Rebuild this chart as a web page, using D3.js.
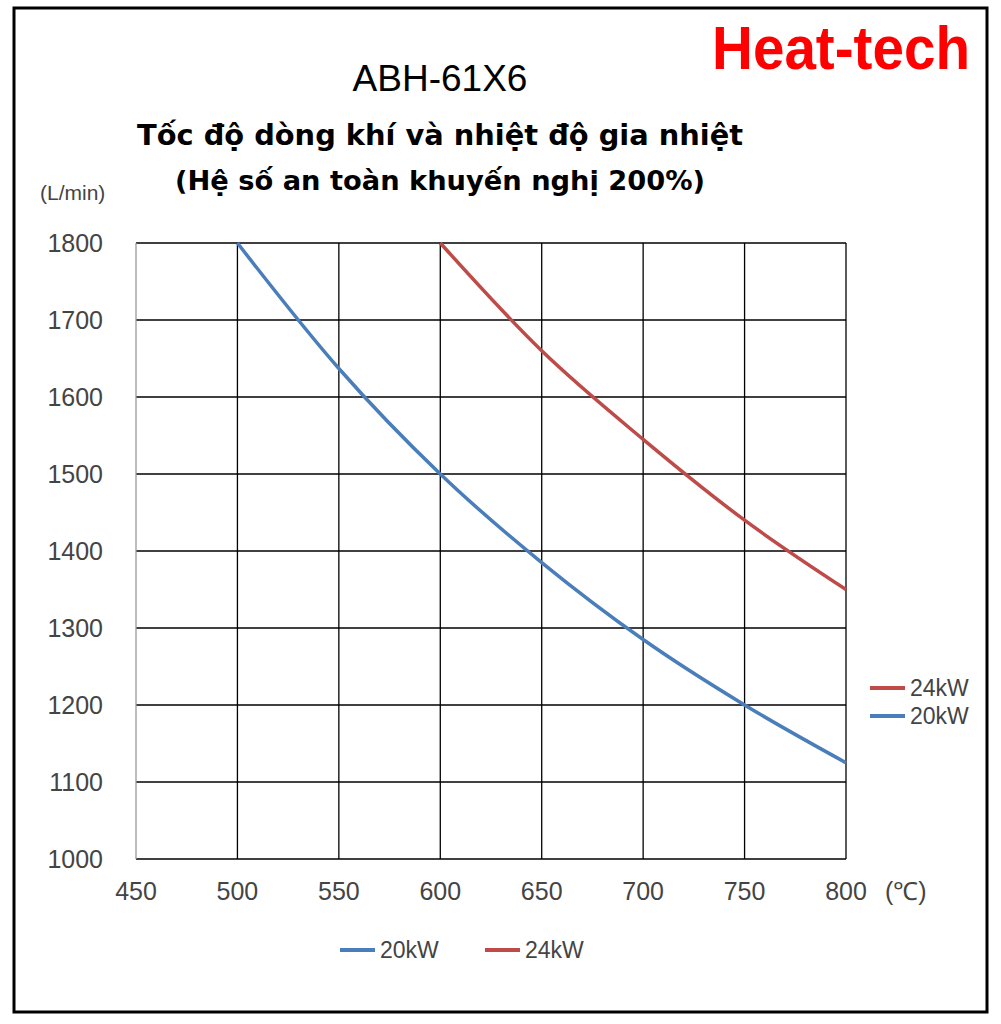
<!DOCTYPE html>
<html><head><meta charset="utf-8">
<script src="https://cdn.jsdelivr.net/npm/d3@7"></script>
<style>body{margin:0;background:#fff}</style>
</head><body>
<svg id="chart" width="1001" height="1024"></svg>
<script>
// data
const temps = [500, 550, 600, 650, 700, 750, 800];
const flow20 = [1800, 1637, 1500, 1385, 1285, 1200, 1125];
const temps24 = [600, 650, 700, 750, 800];
const flow24 = [1800, 1660, 1545, 1440, 1350];
const xTicks = [450, 500, 550, 600, 650, 700, 750, 800];
const yTicks = [1000, 1100, 1200, 1300, 1400, 1500, 1600, 1700, 1800];

const blue = "#4a7ebb", red = "#be4b48";
const svg = d3.select("#chart");
const font = "'Liberation Sans', Arial, sans-serif";

svg.append("rect").attr("x", 14).attr("y", 8).attr("width", 973).attr("height", 1004)
   .attr("fill", "none").attr("stroke", "#000").attr("stroke-width", 3);

svg.append("text").attr("x", 712).attr("y", 69)
   .attr("font-family", font).attr("font-weight", "bold")
   .attr("font-size", 62).attr("fill", "#ff0000").attr("textLength", 258)
   .attr("lengthAdjust", "spacingAndGlyphs").text("Heat-tech");

svg.append("text").attr("x", 440).attr("y", 91).attr("text-anchor", "middle")
   .attr("font-family", font).attr("font-size", 37).text("ABH-61X6");
svg.append("text").attr("x", 440).attr("y", 145).attr("text-anchor", "middle")
   .attr("font-family", "'DejaVu Sans', sans-serif").attr("font-weight", "bold").attr("font-size", 28)
   .attr("textLength", 606).attr("lengthAdjust", "spacingAndGlyphs")
   .text("Tốc độ dòng khí và nhiệt độ gia nhiệt");
svg.append("text").attr("x", 440).attr("y", 190).attr("text-anchor", "middle")
   .attr("font-family", "'DejaVu Sans', sans-serif").attr("font-weight", "bold").attr("font-size", 26)
   .attr("textLength", 530).attr("lengthAdjust", "spacingAndGlyphs")
   .text("(Hệ số an toàn khuyến nghị 200%)");

const x = d3.scaleLinear().domain([450, 800]).range([136, 846]);
const y = d3.scaleLinear().domain([1000, 1800]).range([859, 243]);

const grid = svg.append("g").attr("stroke", "#000").attr("stroke-width", 1.3);
xTicks.slice(1).forEach(t => grid.append("line").attr("x1", x(t)).attr("x2", x(t)).attr("y1", y(1000)).attr("y2", y(1800)));
yTicks.forEach(t => grid.append("line").attr("x1", x(450)).attr("x2", x(800)).attr("y1", y(t)).attr("y2", y(t)));
grid.append("line").attr("x1", x(450)).attr("x2", x(450)).attr("y1", y(1000)).attr("y2", y(1800)).attr("stroke", "#999");

const tl = svg.append("g").attr("font-family", font).attr("font-size", 25).attr("fill", "#444");
xTicks.forEach(t => tl.append("text").attr("x", x(t)).attr("y", 900).attr("text-anchor", "middle").text(t));
yTicks.forEach(t => tl.append("text").attr("x", 103).attr("y", y(t) + 9).attr("text-anchor", "end").text(t));
tl.append("text").attr("x", 885).attr("y", 900).text("(℃)");
tl.append("text").attr("x", 40).attr("y", 200).attr("font-size", 21).text("(L/min)");

const line = d3.line().x(d => x(d[0])).y(d => y(d[1])).curve(d3.curveMonotoneX);
svg.append("path").attr("d", line(d3.zip(temps, flow20))).attr("fill", "none").attr("stroke", blue).attr("stroke-width", 3.5);
svg.append("path").attr("d", line(d3.zip(temps24, flow24))).attr("fill", "none").attr("stroke", red).attr("stroke-width", 3.5);

function legend(items) {
  items.forEach(([lab, c, lx, ly]) => {
    svg.append("line").attr("x1", lx).attr("x2", lx + 35).attr("y1", ly).attr("y2", ly).attr("stroke", c).attr("stroke-width", 4);
    svg.append("text").attr("x", lx + 40).attr("y", ly + 8).attr("font-family", font).attr("font-size", 23).attr("fill", "#444").text(lab);
  });
}
legend([["24kW", red, 870, 688], ["20kW", blue, 870, 716], ["20kW", blue, 340, 950], ["24kW", red, 485, 950]]);
</script>
</body></html>
